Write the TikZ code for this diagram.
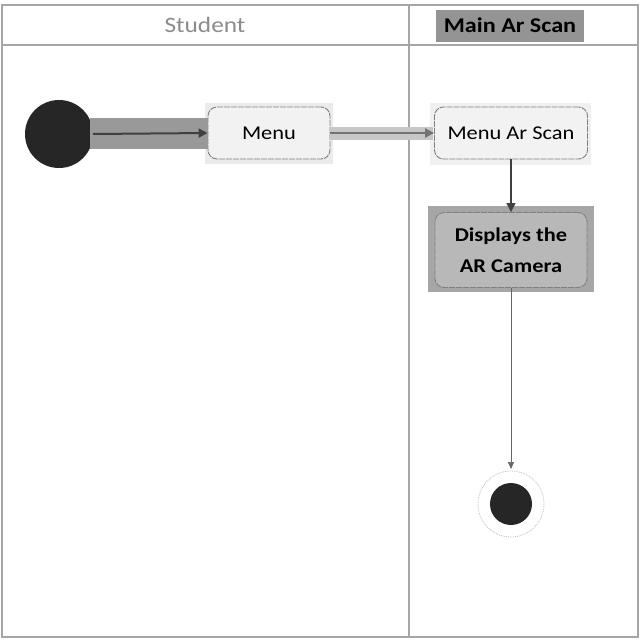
\documentclass[tikz,border=0pt]{standalone}
\usepackage{fontspec}
\setmainfont{Carlito}[FakeStretch=1.15]
\usetikzlibrary{arrows.meta}
\begin{document}
\begin{tikzpicture}[x=1pt,y=-1pt,
  frame/.style={draw=black!35,line width=2pt},
  action/.style={draw=black!50,rounded corners=9pt,line width=0.9pt,
    dash pattern=on 6pt off 1pt,fill=black!5,font=\fontsize{19.5}{22}\selectfont},
  flow/.style={-{Triangle[length=9pt,width=9pt]},line width=2pt,draw=black!75}]
\useasboundingbox (0,0) rectangle (640,640);
\fill[white] (0,0) rectangle (640,640);
% swimlane frame
\draw[frame] (2,5) rectangle (638,637);
\draw[frame] (2,45) -- (638,45);
\draw[frame] (409,5) -- (409,637);
% lane titles
\node (studentlane) at (205,25) {\textcolor{black!45}{\fontsize{22}{24}\selectfont Student}};
\fill[black!42] (436,10) rectangle (584,42);
\node[font=\bfseries\fontsize{21}{24}\selectfont] (arlane) at (510,25) {Main Ar Scan};
% start node
\fill[black!85] (59,134) circle (34);
\coordinate (start) at (93,134);
% menu box and background
\fill[black!8] (205,103) rectangle (333,164);
\node[action,minimum width=122pt,minimum height=52pt] (menu) at (269,133) {Menu};
% menu ar scan box and background
\fill[black!6] (430,103) rectangle (591,165);
\node[action,minimum width=153pt,minimum height=52pt] (arscan) at (511,133) {Menu Ar Scan};
% camera box and background
\fill[black!35] (428,206) rectangle (594,292);
\node[action,fill=black!28,minimum width=152pt,minimum height=75pt,align=center,
  font=\bfseries\fontsize{19.5}{31}\selectfont] (camera) at (511,250) {Displays the\\AR Camera};
% end node
\draw[black!25,densely dotted,line width=0.8pt,fill=white] (511,504) circle (33);
\fill[black!85] (511,504) circle (21);
\coordinate (endtop) at (511,469);
% transitions
\fill[black!40] (90,118) rectangle (208,149);
\draw[flow] (start) -- (menu.west);
\fill[black!22] (330,127) rectangle (433,140);
\draw[flow,draw=black!55] (menu.east) -- (arscan.west);
\draw[flow,line width=1.2pt] (arscan.south) -- (camera.north);
\draw[-{Triangle[length=7pt,width=6pt]},black!60,line width=0.7pt] (camera.south) -- (endtop);
\end{tikzpicture}
\end{document}
